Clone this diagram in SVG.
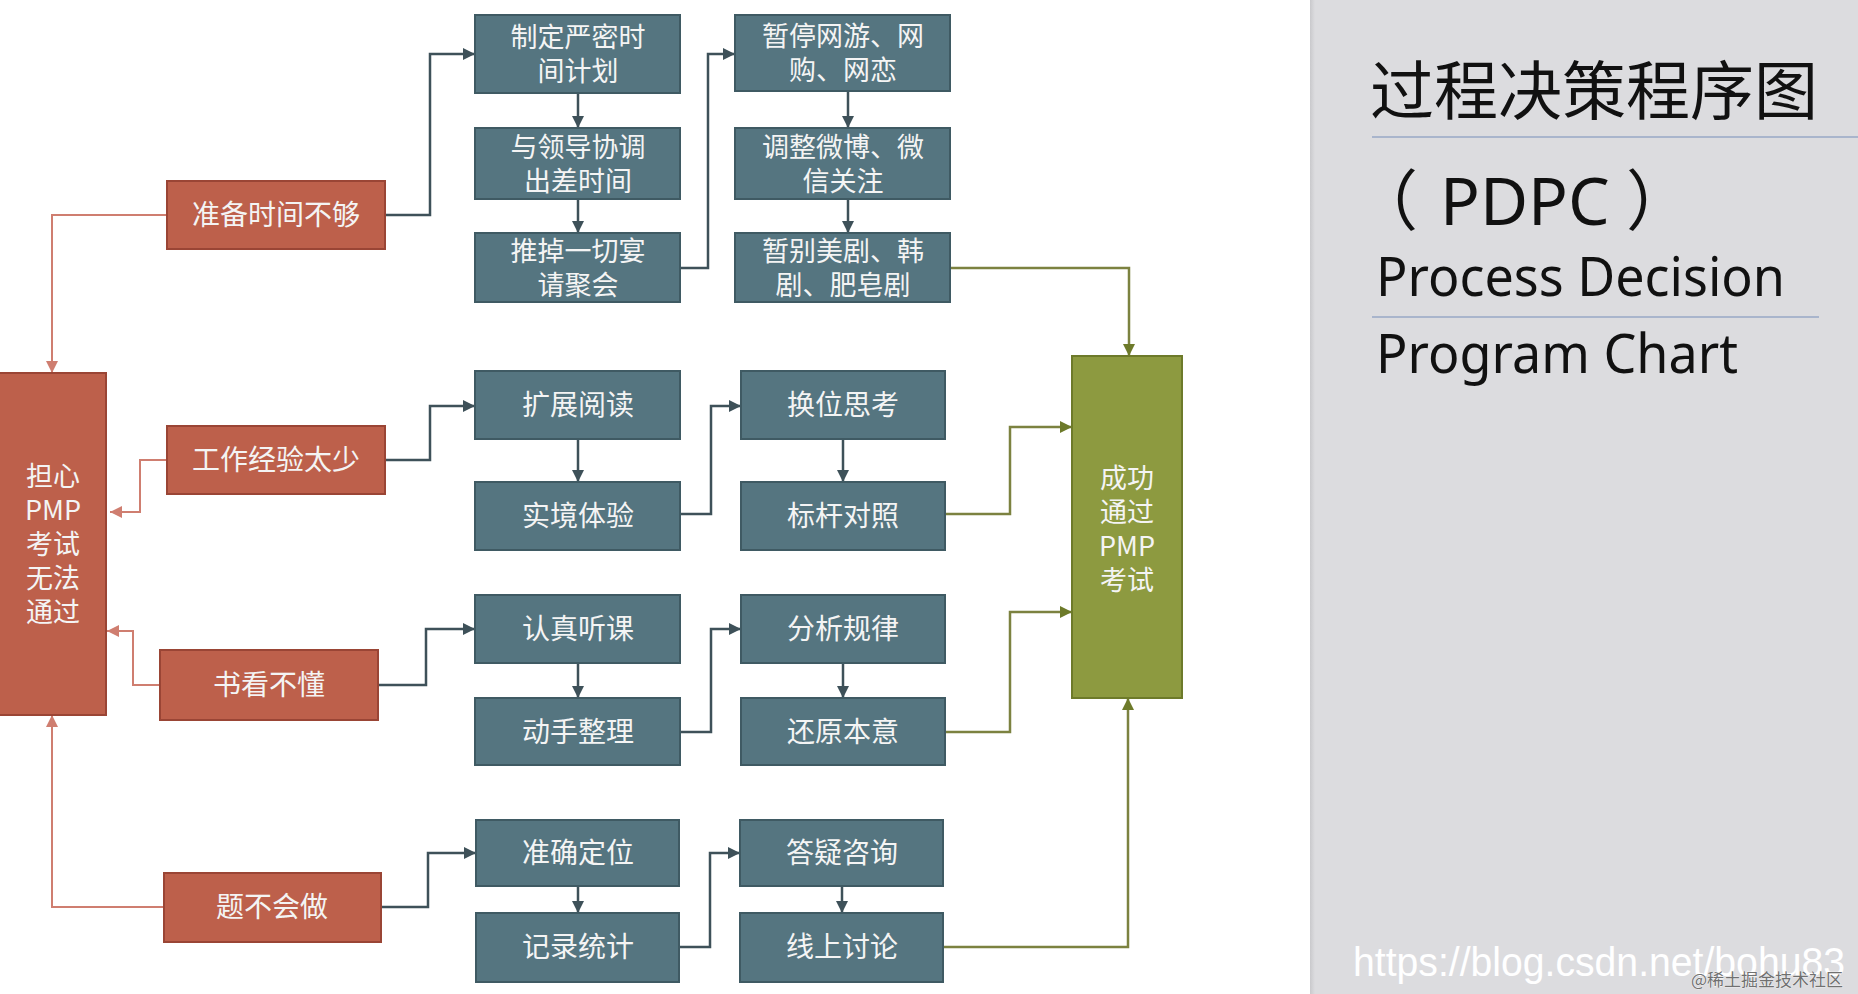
<svg xmlns="http://www.w3.org/2000/svg" width="1858" height="994" viewBox="0 0 1858 994">
<style>
.t{fill:#557580;stroke:#3f5a63;stroke-width:2}
.r{fill:#bd604b;stroke:#9a4535;stroke-width:2}
.o{fill:#8d9a40;stroke:#6d7a2a;stroke-width:2}
.lb{font-family:"Noto Sans CJK SC","Noto Sans",sans-serif;font-size:28px;fill:#f4f4f4;text-anchor:middle}
.ml{font-size:27px}
.cd{fill:none;stroke:#3e5159;stroke-width:2.5}
.cp{fill:none;stroke:#cf7e70;stroke-width:2}
.co{fill:none;stroke:#7c8240;stroke-width:2.5}
.h{font-family:"Noto Sans CJK SC","Noto Sans",sans-serif;fill:#111}
</style>
<defs>
<marker id="ad" viewBox="0 0 10 10" refX="10" refY="5" markerWidth="12" markerHeight="12" markerUnits="userSpaceOnUse" orient="auto"><path d="M0,0 L10,5 L0,10 z" fill="#3e5159"/></marker>
<marker id="ap" viewBox="0 0 10 10" refX="10" refY="5" markerWidth="12" markerHeight="12" markerUnits="userSpaceOnUse" orient="auto"><path d="M0,0 L10,5 L0,10 z" fill="#cf7e70"/></marker>
<marker id="ao" viewBox="0 0 10 10" refX="10" refY="5" markerWidth="12" markerHeight="12" markerUnits="userSpaceOnUse" orient="auto"><path d="M0,0 L10,5 L0,10 z" fill="#6d7a2a"/></marker>
<linearGradient id="sh" x1="0" x2="1" y1="0" y2="0"><stop offset="0" stop-color="#c9c9cc"/><stop offset="1" stop-color="#dcdcdf"/></linearGradient>
</defs>
<rect x="0" y="0" width="1858" height="994" fill="#ffffff"/>
<g id="panel">
<rect x="1310" y="0" width="548" height="994" fill="#dcdcdf"/>
<rect x="1310" y="0" width="5" height="994" fill="url(#sh)"/>
<text class="h" x="1370" y="114" font-size="64">过程决策程序图</text>
<line x1="1372" y1="137" x2="1858" y2="137" stroke="#a9b5cc" stroke-width="2"/>
<text class="h" y="225" font-size="66"><tspan x="1352">（</tspan><tspan x="1440" font-family="Noto Sans, sans-serif">PDPC</tspan><tspan x="1626">）</tspan></text>
<text x="1376" y="296" font-family="Noto Sans, sans-serif" font-size="54" fill="#111" textLength="409" lengthAdjust="spacingAndGlyphs">Process Decision</text>
<line x1="1372" y1="317" x2="1819" y2="317" stroke="#a9b5cc" stroke-width="2"/>
<text x="1376" y="373" font-family="Noto Sans, sans-serif" font-size="54" fill="#111" textLength="362" lengthAdjust="spacingAndGlyphs">Program Chart</text>
<text x="1353" y="976" font-family="Liberation Sans, sans-serif" font-size="41" fill="#ffffff" textLength="492" lengthAdjust="spacingAndGlyphs">https://blog.csdn.net/bohu83</text>
<text x="1691" y="986" font-family="Noto Sans CJK SC, sans-serif" font-size="17" fill="#707070" stroke="#ffffff" stroke-width="0.6" paint-order="stroke">@稀土掘金技术社区</text>
</g>
<g id="connectors">
<path class="cp" d="M167,215 H52 V373" marker-end="url(#ap)"/>
<path class="cp" d="M167,460 H140 V512 H110" marker-end="url(#ap)"/>
<path class="cp" d="M160,685 H133 V631 H107" marker-end="url(#ap)"/>
<path class="cp" d="M164,907 H52 V715" marker-end="url(#ap)"/>
<path class="cd" d="M385,215 H430 V54 H475" marker-end="url(#ad)"/>
<path class="cd" d="M385,460 H430 V406 H475" marker-end="url(#ad)"/>
<path class="cd" d="M378,685 H426 V629 H475" marker-end="url(#ad)"/>
<path class="cd" d="M381,907 H428 V853 H476" marker-end="url(#ad)"/>
<path class="cd" d="M578,93 V128" marker-end="url(#ad)"/>
<path class="cd" d="M578,199 V233" marker-end="url(#ad)"/>
<path class="cd" d="M680,268 H708 V54 H735" marker-end="url(#ad)"/>
<path class="cd" d="M848,91 V128" marker-end="url(#ad)"/>
<path class="cd" d="M848,199 V233" marker-end="url(#ad)"/>
<path class="cd" d="M578,439 V482" marker-end="url(#ad)"/>
<path class="cd" d="M680,514 H711 V406 H741" marker-end="url(#ad)"/>
<path class="cd" d="M843,439 V482" marker-end="url(#ad)"/>
<path class="cd" d="M578,663 V698" marker-end="url(#ad)"/>
<path class="cd" d="M680,732 H711 V629 H741" marker-end="url(#ad)"/>
<path class="cd" d="M843,663 V698" marker-end="url(#ad)"/>
<path class="cd" d="M578,886 V913" marker-end="url(#ad)"/>
<path class="cd" d="M679,947 H710 V853 H740" marker-end="url(#ad)"/>
<path class="cd" d="M842,886 V913" marker-end="url(#ad)"/>
<path class="co" d="M950,268 H1129 V356" marker-end="url(#ao)"/>
<path class="co" d="M945,514 H1010 V427 H1072" marker-end="url(#ao)"/>
<path class="co" d="M945,732 H1010 V612 H1072" marker-end="url(#ao)"/>
<path class="co" d="M943,947 H1128 V698" marker-end="url(#ao)"/>
</g>
<g id="worry"><rect class="r" x="-2" y="373" width="108" height="342"/>
<text class="lb ml"><tspan x="53" y="486">担心</tspan><tspan x="53" y="520">PMP</tspan><tspan x="53" y="554">考试</tspan><tspan x="53" y="588">无法</tspan><tspan x="53" y="622">通过</tspan></text></g>
<g id="success"><rect class="o" x="1072" y="356" width="110" height="342"/>
<text class="lb ml"><tspan x="1127" y="488">成功</tspan><tspan x="1127" y="522">通过</tspan><tspan x="1127" y="556">PMP</tspan><tspan x="1127" y="590">考试</tspan></text></g>
<g id="r1"><rect class="r" x="167" y="181" width="218" height="68"/><text class="lb" x="276" y="225">准备时间不够</text></g>
<g id="r2"><rect class="r" x="167" y="426" width="218" height="68"/><text class="lb" x="276" y="470">工作经验太少</text></g>
<g id="r3"><rect class="r" x="160" y="650" width="218" height="70"/><text class="lb" x="269" y="695">书看不懂</text></g>
<g id="r4"><rect class="r" x="164" y="873" width="217" height="69"/><text class="lb" x="272" y="917">题不会做</text></g>
<g id="a1"><rect class="t" x="475" y="15" width="205" height="78"/><text class="lb ml"><tspan x="578" y="47">制定严密时</tspan><tspan x="578" y="81">间计划</tspan></text></g>
<g id="a2"><rect class="t" x="475" y="128" width="205" height="71"/><text class="lb ml"><tspan x="578" y="157">与领导协调</tspan><tspan x="578" y="191">出差时间</tspan></text></g>
<g id="a3"><rect class="t" x="475" y="233" width="205" height="69"/><text class="lb ml"><tspan x="578" y="261">推掉一切宴</tspan><tspan x="578" y="295">请聚会</tspan></text></g>
<g id="b1"><rect class="t" x="735" y="15" width="215" height="76"/><text class="lb ml"><tspan x="843" y="46">暂停网游、网</tspan><tspan x="843" y="80">购、网恋</tspan></text></g>
<g id="b2"><rect class="t" x="735" y="128" width="215" height="71"/><text class="lb ml"><tspan x="843" y="157">调整微博、微</tspan><tspan x="843" y="191">信关注</tspan></text></g>
<g id="b3"><rect class="t" x="735" y="233" width="215" height="69"/><text class="lb ml"><tspan x="843" y="261">暂别美剧、韩</tspan><tspan x="843" y="295">剧、肥皂剧</tspan></text></g>
<g id="c1"><rect class="t" x="475" y="371" width="205" height="68"/><text class="lb" x="578" y="415">扩展阅读</text></g>
<g id="c2"><rect class="t" x="475" y="482" width="205" height="68"/><text class="lb" x="578" y="526">实境体验</text></g>
<g id="d1"><rect class="t" x="741" y="371" width="204" height="68"/><text class="lb" x="843" y="415">换位思考</text></g>
<g id="d2"><rect class="t" x="741" y="482" width="204" height="68"/><text class="lb" x="843" y="526">标杆对照</text></g>
<g id="e1"><rect class="t" x="475" y="595" width="205" height="68"/><text class="lb" x="578" y="639">认真听课</text></g>
<g id="e2"><rect class="t" x="475" y="698" width="205" height="67"/><text class="lb" x="578" y="742">动手整理</text></g>
<g id="f1"><rect class="t" x="741" y="595" width="204" height="68"/><text class="lb" x="843" y="639">分析规律</text></g>
<g id="f2"><rect class="t" x="741" y="698" width="204" height="67"/><text class="lb" x="843" y="742">还原本意</text></g>
<g id="g1"><rect class="t" x="476" y="820" width="203" height="66"/><text class="lb" x="578" y="863">准确定位</text></g>
<g id="g2"><rect class="t" x="476" y="913" width="203" height="69"/><text class="lb" x="578" y="957">记录统计</text></g>
<g id="h1"><rect class="t" x="740" y="820" width="203" height="66"/><text class="lb" x="842" y="863">答疑咨询</text></g>
<g id="h2"><rect class="t" x="740" y="913" width="203" height="69"/><text class="lb" x="842" y="957">线上讨论</text></g>
</svg>
